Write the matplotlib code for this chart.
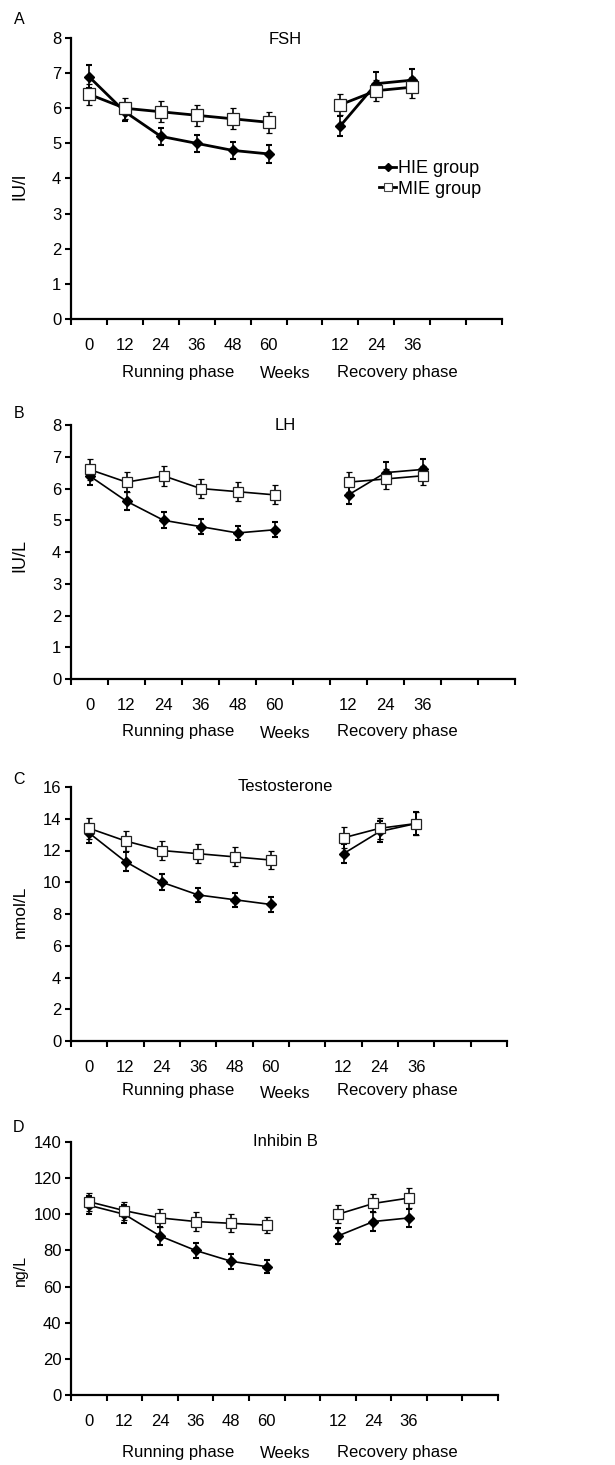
import matplotlib
matplotlib.use("Agg")
import matplotlib.pyplot as plt
import numpy as np
from matplotlib.lines import Line2D

plt.rcParams['font.family'] = ['Liberation Sans', 'DejaVu Sans']

W, H = 615, 1465

# ---- data ----
categories = ['0', '12', '24', '36', '48', '60', '', '12', '24', '36', '', '']
run_idx = [0, 1, 2, 3, 4, 5]
rec_idx = [7, 8, 9]

fsh_hie_run = [6.9, 5.9, 5.2, 5.0, 4.8, 4.7]
fsh_hie_rec = [5.5, 6.7, 6.8]
fsh_mie_run = [6.4, 6.0, 5.9, 5.8, 5.7, 5.6]
fsh_mie_rec = [6.1, 6.5, 6.6]
fsh_hie_err_run = [0.33, 0.25, 0.25, 0.25, 0.25, 0.25]
fsh_hie_err_rec = [0.28, 0.33, 0.33]
fsh_mie_err_run = [0.3, 0.3, 0.3, 0.3, 0.3, 0.3]
fsh_mie_err_rec = [0.3, 0.3, 0.3]

lh_hie_run = [6.4, 5.6, 5.0, 4.8, 4.6, 4.7]
lh_hie_rec = [5.8, 6.5, 6.6]
lh_mie_run = [6.6, 6.2, 6.4, 6.0, 5.9, 5.8]
lh_mie_rec = [6.2, 6.3, 6.4]
lh_hie_err_run = [0.3, 0.28, 0.25, 0.23, 0.23, 0.23]
lh_hie_err_rec = [0.3, 0.33, 0.33]
lh_mie_err_run = [0.32, 0.32, 0.32, 0.3, 0.3, 0.3]
lh_mie_err_rec = [0.32, 0.3, 0.3]

t_hie_run = [13.1, 11.3, 10.0, 9.2, 8.9, 8.6]
t_hie_rec = [11.8, 13.2, 13.7]
t_mie_run = [13.4, 12.6, 12.0, 11.8, 11.6, 11.4]
t_mie_rec = [12.8, 13.4, 13.7]
t_hie_err_run = [0.6, 0.6, 0.5, 0.45, 0.45, 0.45]
t_hie_err_rec = [0.6, 0.65, 0.7]
t_mie_err_run = [0.65, 0.6, 0.6, 0.6, 0.6, 0.55]
t_mie_err_rec = [0.65, 0.65, 0.75]

ib_hie_run = [105, 100, 88, 80, 74, 71]
ib_hie_rec = [88, 96, 98]
ib_mie_run = [107, 102, 98, 96, 95, 94]
ib_mie_rec = [100, 106, 109]
ib_hie_err_run = [5, 5, 5, 4, 4, 3.5]
ib_hie_err_rec = [4.5, 5, 5]
ib_mie_err_run = [5, 5, 5, 5, 5, 4.5]
ib_mie_err_rec = [5, 5, 5.5]

titles = ['FSH', 'LH', 'Testosterone', 'Inhibin B']
ylabels = ['IU/l', 'IU/L', 'nmol/L', 'ng/L']
letters = ['A', 'B', 'C', 'D']
ymaxes = [8, 8, 16, 140]
ysteps = [1, 1, 2, 20]

fig = plt.figure(figsize=(W / 100, H / 100), dpi=100)


def px(x, y):
    return x / W, 1 - y / H


# axes boxes in pixels: left, right, top(ymax), bottom(y=0)
boxes = [(71, 502, 38, 319), (71, 515, 425, 679), (71, 507, 787, 1041), (71, 498, 1142, 1395)]
letter_pos = [(19, 20), (19, 414), (19, 779), (19, 1128)]
title_y = [39, 426, 786, 1142]
ylab_y = [186, 555, 912, 1270]
phase_y = [372, 731, 1091, 1452]
ylab_sizes = [13, 13, 12.5, 11.5]

panels = [
    (fsh_hie_run, fsh_hie_rec, fsh_mie_run, fsh_mie_rec, fsh_hie_err_run, fsh_hie_err_rec, fsh_mie_err_run, fsh_mie_err_rec),
    (lh_hie_run, lh_hie_rec, lh_mie_run, lh_mie_rec, lh_hie_err_run, lh_hie_err_rec, lh_mie_err_run, lh_mie_err_rec),
    (t_hie_run, t_hie_rec, t_mie_run, t_mie_rec, t_hie_err_run, t_hie_err_rec, t_mie_err_run, t_mie_err_rec),
    (ib_hie_run, ib_hie_rec, ib_mie_run, ib_mie_rec, ib_hie_err_run, ib_hie_err_rec, ib_mie_err_run, ib_mie_err_rec),
]

for k in range(4):
    l, r, t, b = boxes[k]
    ax = fig.add_axes([l / W, 1 - b / H, (r - l) / W, (b - t) / H])
    hr, hc, mr, mc, her, hec, mer, mec = panels[k]
    thick = (k == 0)
    lw = 2.0 if thick else 1.2
    ms_d = 5.4 if thick else 4.6
    ms_s = 8.5 if thick else 6.5
    xr = np.array(run_idx) + 0.5
    xc = np.array(rec_idx) + 0.5
    for xs, ys, es in ((xr, hr, her), (xc, hc, hec)):
        ax.errorbar(xs, ys, yerr=es, color='black', lw=lw, marker='D', ms=ms_d,
                    mfc='black', mec='black', ecolor='black', elinewidth=1.2,
                    capsize=2.5, capthick=1.5, zorder=3)
    for xs, ys, es in ((xr, mr, mer), (xc, mc, mec)):
        ax.errorbar(xs, ys, yerr=es, color='black', lw=lw, marker='s', ms=ms_s,
                    mfc='white', mec='#222222', mew=0.9, ecolor='black', elinewidth=1.2,
                    capsize=2.5, capthick=1.5, zorder=4)
    ax.set_xlim(0, len(categories))
    ax.set_ylim(0, ymaxes[k])
    ax.set_yticks(np.arange(0, ymaxes[k] + 0.01, ysteps[k]))
    ax.set_xticks(np.arange(0, len(categories) + 1))
    ax.set_xticklabels([])
    ax.set_xticks(np.arange(len(categories)) + 0.5, minor=True)
    ax.set_xticklabels(categories, minor=True)
    ax.tick_params(axis='x', which='major', direction='out', length=4, width=1.5)
    ax.tick_params(axis='x', which='minor', length=0, pad=14, labelsize=12)
    ax.tick_params(axis='y', direction='out', length=4, width=1.5, pad=3, labelsize=12)
    for s in ('top', 'right'):
        ax.spines[s].set_visible(False)
    for s in ('left', 'bottom'):
        ax.spines[s].set_linewidth(1.6)
    ax.patch.set_alpha(0)

    fig.text(*px(285, title_y[k]), titles[k], ha='center', va='center', fontsize=12)
    fig.text(*px(19, letter_pos[k][1]), letters[k], ha='center', va='center', fontsize=11.5)
    fig.text(*px(20, ylab_y[k]), ylabels[k], ha='center', va='center', rotation=90,
             fontsize=ylab_sizes[k])
    fig.text(*px(178, phase_y[k]), 'Running phase', ha='center', va='center', fontsize=12)
    fig.text(*px(285, phase_y[k] + 2), 'Weeks', ha='center', va='center', fontsize=12)
    fig.text(*px(397, phase_y[k]), 'Recovery phase', ha='center', va='center', fontsize=12)

    if k == 0:
        handles = [
            Line2D([], [], color='black', lw=2.0, marker='D', ms=4.5, mfc='black', mec='black'),
            Line2D([], [], color='black', lw=2.0, marker='s', ms=6, mfc='white', mec='#444444', mew=0.8),
        ]
        fig.legend(handles, ['HIE group', 'MIE group'], loc='center left',
                   bbox_to_anchor=px(379, 179), frameon=False, fontsize=13,
                   handlelength=0.95, handletextpad=0.1, labelspacing=0.2,
                   borderpad=0, borderaxespad=0)

fig.savefig('out.png', dpi=100)
